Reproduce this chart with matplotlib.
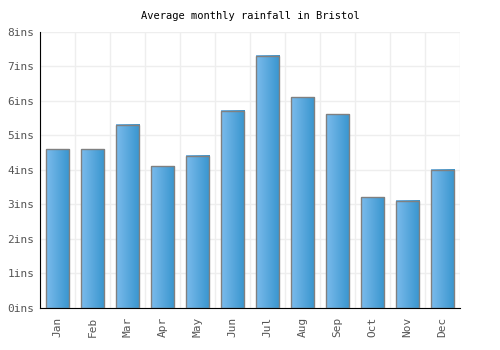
import matplotlib
matplotlib.use("Agg")
import matplotlib.pyplot as plt
import numpy as np
from matplotlib.colors import LinearSegmentedColormap

months = ["Jan", "Feb", "Mar", "Apr", "May", "Jun",
          "Jul", "Aug", "Sep", "Oct", "Nov", "Dec"]
rainfall = [4.6, 4.6, 5.3, 4.1, 4.4, 5.7, 7.3, 6.1, 5.6, 3.2, 3.1, 4.0]
yticks = [0, 1, 2, 3, 4, 5, 6, 7, 8]

plt.rcParams["font.family"] = "DejaVu Sans Mono"

fig = plt.figure(figsize=(5, 3.5), dpi=100)
ax = fig.add_axes([0.08, 0.12, 0.84, 0.79])

cmap = LinearSegmentedColormap.from_list("bar", ["#7bbbec", "#3895ce"])
grad = np.linspace(0, 1, 64).reshape(1, -1)
width = 0.68

x = np.arange(len(months))
for i, v in zip(x, rainfall):
    left = i - width / 2
    ax.imshow(grad, cmap=cmap, aspect="auto", extent=(left, left + width, 0, v),
              zorder=2, interpolation="bilinear")
    ax.add_patch(plt.Rectangle((left, 0), width, v, fill=False,
                               edgecolor="#808080", linewidth=1, zorder=3))

ax.set_xlim(-0.5, len(months) - 0.5)
ax.set_ylim(0, 8)
ax.set_xticks(x)
ax.set_xticklabels(months, rotation=90, fontsize=8, color="#555555")
ax.set_yticks(yticks)
ax.set_yticklabels([f"{t}ins" for t in yticks], fontsize=8, color="#555555")
ax.set_xticks(np.arange(-0.5, len(months), 1), minor=True)
ax.tick_params(which="both", length=0)
ax.tick_params(axis="x", pad=6)
ax.tick_params(axis="y", pad=4)

ax.grid(which="minor", axis="x", color="#eeeeee", linewidth=1, zorder=0)
ax.grid(which="major", axis="y", color="#eeeeee", linewidth=1, zorder=0)
ax.set_axisbelow(True)

for s in ["top", "right"]:
    ax.spines[s].set_visible(False)
ax.spines["left"].set_color("black")
ax.spines["bottom"].set_color("black")

ax.set_title("Average monthly rainfall in Bristol", fontsize=7.5, pad=9)

fig.savefig("out.png", dpi=100)
